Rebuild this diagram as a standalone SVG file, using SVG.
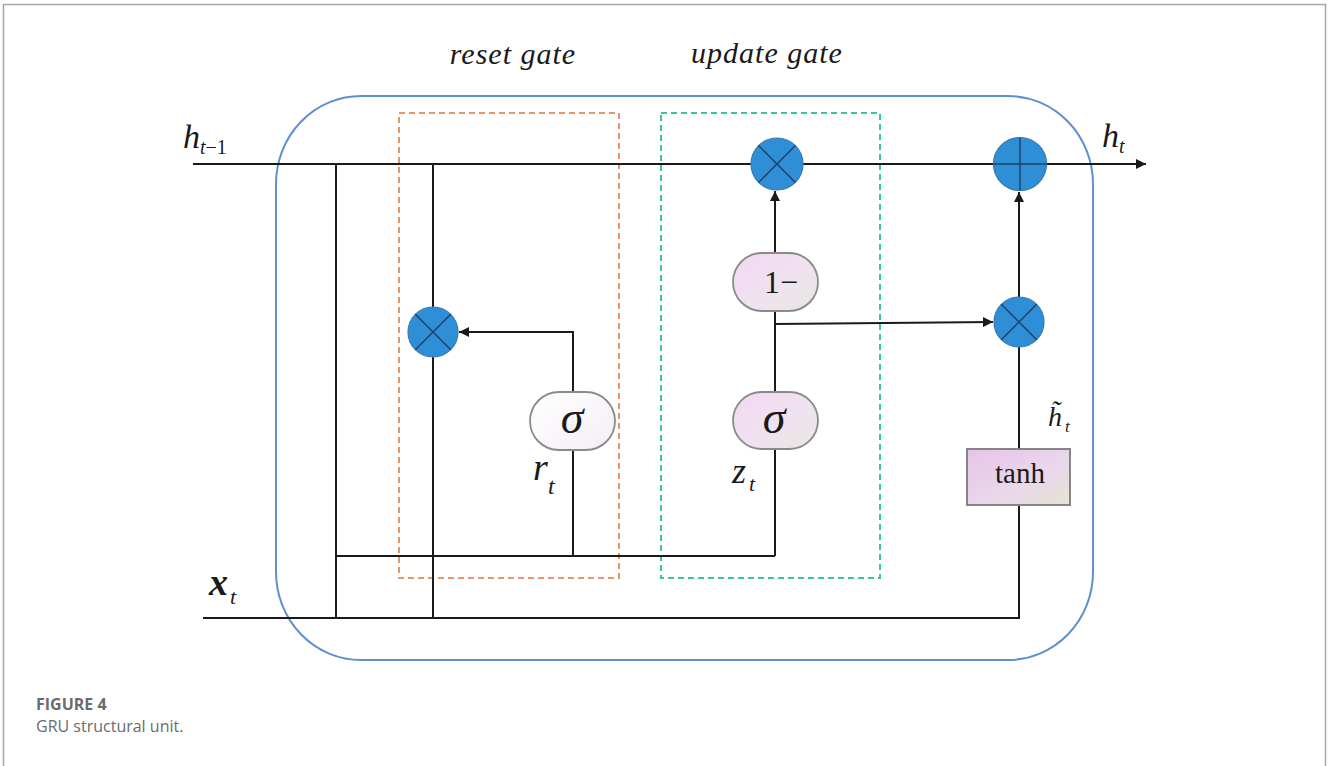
<svg xmlns="http://www.w3.org/2000/svg" width="1330" height="766" viewBox="0 0 1330 766">
<defs>
  <style>
    .wire{stroke:#1a1a1a;stroke-width:2;fill:none}
    .math{font-family:"Liberation Serif","DejaVu Serif",serif;font-style:italic;fill:#1a1a1a}
    .rm{font-family:"Liberation Serif","DejaVu Serif",serif;fill:#1a1a1a}
    .op{fill:#2f8fd6;stroke:#3a78b5;stroke-width:1.2}
    .opx{stroke:#1d3f66;stroke-width:1.4}
    .pill{stroke:#8a8a8a;stroke-width:1.8}
    .cap{font-family:"Open Sans","Noto Sans","Liberation Sans",sans-serif;fill:#6b6b6b}
  </style>
  <linearGradient id="gWhite" x1="0" y1="0" x2="1" y2="1">
    <stop offset="0" stop-color="#ffffff"/>
    <stop offset="1" stop-color="#f4eef4"/>
  </linearGradient>
  <linearGradient id="gPink" x1="0" y1="0" x2="1" y2="1">
    <stop offset="0" stop-color="#f3d7f3"/>
    <stop offset="0.6" stop-color="#efe3ef"/>
    <stop offset="1" stop-color="#e6e8dc"/>
  </linearGradient>
  <linearGradient id="gTanh" x1="0" y1="0" x2="1" y2="1">
    <stop offset="0" stop-color="#e7c3ea"/>
    <stop offset="0.6" stop-color="#ead8ea"/>
    <stop offset="1" stop-color="#e3e4d3"/>
  </linearGradient>
  <marker id="arr" viewBox="0 0 10 10" refX="10" refY="5" markerWidth="5" markerHeight="5" orient="auto" markerUnits="strokeWidth">
    <path d="M0,0 L10,5 L0,10 z" fill="#1a1a1a"/>
  </marker>
</defs>
<rect width="1330" height="766" fill="#ffffff"/>
<!-- page frame -->
<path d="M3.5,766 V4.5 H1325.5 V766" fill="none" stroke="#a8a8a8" stroke-width="1.5"/>

<!-- cell boundary -->
<g id="cell">
  <rect x="276" y="96" width="817" height="564" rx="85" ry="88" fill="none" stroke="#5f8fd2" stroke-width="2"/>
</g>

<!-- gate boxes -->
<g id="reset-gate">
  <rect x="399" y="113" width="220" height="465" fill="none" stroke="#e9956a" stroke-width="2" stroke-dasharray="6,4"/>
  <text class="math" x="513" y="64" font-size="30" text-anchor="middle" letter-spacing="1">reset gate</text>
</g>
<g id="update-gate">
  <rect x="661" y="113" width="219" height="465" fill="none" stroke="#3cc4a2" stroke-width="2" stroke-dasharray="6,4"/>
  <text class="math" x="767" y="63" font-size="30" text-anchor="middle" letter-spacing="1">update gate</text>
</g>

<!-- connectors -->
<g id="connectors">
  <line class="wire" x1="193" y1="164" x2="751" y2="164"/>
  <line class="wire" x1="803" y1="164" x2="993" y2="164"/>
  <line class="wire" x1="1046" y1="164" x2="1146" y2="164" marker-end="url(#arr)"/>
  <line class="wire" x1="203" y1="618" x2="1020" y2="618"/>
  <line class="wire" x1="336" y1="164" x2="336" y2="618"/>
  <line class="wire" x1="433" y1="164" x2="433" y2="307"/>
  <line class="wire" x1="433" y1="357" x2="433" y2="618"/>
  <line class="wire" x1="336" y1="556" x2="775" y2="556"/>
  <line class="wire" x1="573" y1="450" x2="573" y2="556"/>
  <line class="wire" x1="775" y1="449" x2="775" y2="556"/>
  <polyline class="wire" points="573,392 573,332 459,332" marker-end="url(#arr)"/>
  <line class="wire" x1="775" y1="392" x2="775" y2="311"/>
  <line class="wire" x1="775" y1="253" x2="775" y2="191" marker-end="url(#arr)"/>
  <line class="wire" x1="775" y1="324" x2="993" y2="322" marker-end="url(#arr)"/>
  <line class="wire" x1="1019" y1="618" x2="1019" y2="506"/>
  <line class="wire" x1="1019" y1="449" x2="1019" y2="347"/>
  <line class="wire" x1="1019" y1="297" x2="1019" y2="192" marker-end="url(#arr)"/>
</g>

<!-- operators -->
<g id="mul-reset">
  <circle class="op" cx="433" cy="332" r="25"/>
  <line class="opx" x1="415.3" y1="314.3" x2="450.7" y2="349.7"/>
  <line class="opx" x1="450.7" y1="314.3" x2="415.3" y2="349.7"/>
</g>
<g id="mul-update">
  <circle class="op" cx="777" cy="164" r="26"/>
  <line class="opx" x1="758.6" y1="145.6" x2="795.4" y2="182.4"/>
  <line class="opx" x1="795.4" y1="145.6" x2="758.6" y2="182.4"/>
</g>
<g id="mul-candidate">
  <circle class="op" cx="1019" cy="322" r="25"/>
  <line class="opx" x1="1001.3" y1="304.3" x2="1036.7" y2="339.7"/>
  <line class="opx" x1="1036.7" y1="304.3" x2="1001.3" y2="339.7"/>
</g>
<g id="add">
  <circle class="op" cx="1020" cy="164" r="26.5"/>
  <line class="opx" x1="993.5" y1="164" x2="1046.5" y2="164"/>
  <line class="opx" x1="1020" y1="137.5" x2="1020" y2="190.5"/>
</g>

<!-- nodes -->
<g id="sigma-r">
  <rect class="pill" x="530" y="392" width="85" height="58" rx="29" fill="url(#gWhite)"/>
  <text class="math" x="572" y="433" font-size="46" text-anchor="middle">σ</text>
</g>
<g id="one-minus">
  <rect class="pill" x="733" y="253" width="85" height="58" rx="29" fill="url(#gPink)"/>
  <text class="rm" x="781" y="293" font-size="32" text-anchor="middle">1−</text>
</g>
<g id="sigma-z">
  <rect class="pill" x="733" y="392" width="85" height="57" rx="28.5" fill="url(#gPink)"/>
  <text class="math" x="774" y="433" font-size="46" text-anchor="middle">σ</text>
</g>
<g id="tanh">
  <rect x="967" y="449" width="103" height="56" fill="url(#gTanh)" stroke="#7a7a7a" stroke-width="1.8"/>
  <text class="rm" x="1020" y="483" font-size="29" text-anchor="middle">tanh</text>
</g>

<!-- labels -->
<g id="labels">
  <text class="math" x="183" y="148" font-size="34">h</text>
  <text class="math" x="200" y="154" font-size="20">t<tspan font-style="normal">−1</tspan></text>
  <text class="math" x="1102" y="147" font-size="34">h</text>
  <text class="math" x="1119" y="153" font-size="20">t</text>
  <text class="math" x="209" y="595" font-size="38" font-weight="bold">x</text>
  <text class="math" x="230" y="604" font-size="22">t</text>
  <text class="math" x="533" y="480" font-size="38">r</text>
  <text class="math" x="548" y="494" font-size="24">t</text>
  <text class="math" x="732" y="483" font-size="36">z</text>
  <text class="math" x="749" y="491" font-size="22">t</text>
  <text class="math" x="1048" y="426" font-size="28">h̃</text>
  <text class="math" x="1065" y="432" font-size="17">t</text>
</g>

<!-- caption -->
<g id="caption">
  <text class="cap" x="36" y="710" font-size="16" font-weight="bold">FIGURE 4</text>
  <text class="cap" x="36" y="732" font-size="16">GRU structural unit.</text>
</g>
</svg>
